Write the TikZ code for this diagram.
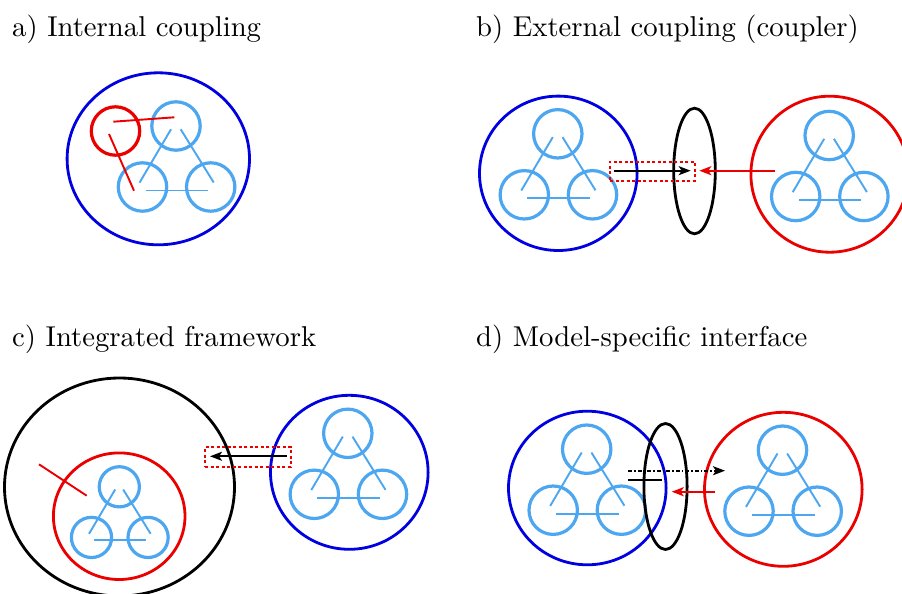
\documentclass[tikz,border=0pt]{standalone}
\usetikzlibrary{shapes.geometric,arrows.meta}
\definecolor{mycyan}{RGB}{77,166,240}
\definecolor{myblue}{RGB}{0,0,225}
\definecolor{myred}{RGB}{235,0,0}
\tikzset{
  tcirc/.style={circle, draw=mycyan, line width=3.2pt, inner sep=0pt, outer sep=0pt},
  tline/.style={draw=mycyan, line width=1.9pt},
  bigell/.style={ellipse, line width=2.8pt, inner sep=0pt, outer sep=0pt},
  redline/.style={draw=myred, line width=1.9pt},
  dashbox/.style={draw=myred, line width=2.3pt, dash pattern=on 3pt off 2.5pt, inner sep=0pt, outer sep=0pt},
  arr/.style={line width=2pt, -{Stealth[length=12pt,width=9pt,inset=3pt]}},
  title/.style={anchor=base west, inner sep=0pt, font=\fontsize{10}{12}\selectfont},
}
\newcommand\ttl[1]{\scalebox{2.87}{#1}}
\newcommand\mytriad[4]{%
  \pgfmathsetmacro\trs{#4}%
  \node[tcirc, minimum size={48.4pt*\trs}] (#1t) at (#2,#3) {};
  \node[tcirc, minimum size={48.4pt*\trs}] (#1l) at ([shift={(-33.5*\trs,61*\trs)}]#1t.center) {};
  \node[tcirc, minimum size={48.4pt*\trs}] (#1r) at ([shift={(34.7*\trs,61*\trs)}]#1t.center) {};
  \draw[tline] ([shift={(-5*\trs,3.3*\trs)}]#1t.center) -- ([shift={(-3*\trs,-4.3*\trs)}]#1l.center);
  \draw[tline] ([shift={(4.7*\trs,3.3*\trs)}]#1t.center) -- ([shift={(3*\trs,-4.5*\trs)}]#1r.center);
  \draw[tline] ([shift={(3*\trs,3.5*\trs)}]#1l.center) -- ([shift={(-2.5*\trs,3.5*\trs)}]#1r.center);
}
\begin{document}
\begin{tikzpicture}[x=1pt,y=-1pt]
\useasboundingbox[fill=white] (0,0) rectangle (902,594);
% titles
\node[title] (ta) at (12,36.5) {\ttl{a) Internal coupling}};
\node[title] (tb) at (476,36.5) {\ttl{b) External coupling (coupler)}};
\node[title] (tc) at (12,346.5) {\ttl{c) Integrated framework}};
\node[title] (td) at (476,346.5) {\ttl{d) Model-specific interface}};
% ---------- a
\node[bigell, draw=myblue, minimum width=182.4pt, minimum height=172pt] (aouter) at (158.3,158.8) {};
\mytriad{a}{176}{126}{1}
\node[circle, draw=myred, line width=3.2pt, minimum size=48.4pt, inner sep=0pt] (ared) at (115.5,131) {};
\coordinate (ar1) at (113.3,121.7);
\coordinate (ar2) at (174.3,117.3);
\coordinate (ar3) at (109,134);
\coordinate (ar4) at (134,190.7);
\draw[redline] (ar1) -- (ar2);
\draw[redline] (ar3) -- (ar4);
% ---------- b
\node[bigell, draw=myblue, minimum width=157.6pt, minimum height=154.4pt] (bblue) at (558.3,173.3) {};
\mytriad{bl}{557.8}{133.8}{1}
\node[bigell, draw=myred, minimum width=157.6pt, minimum height=156pt] (bred) at (829.7,174.2) {};
\mytriad{br}{829.2}{135.5}{1}
\node[bigell, draw=black, minimum width=41.6pt, minimum height=125.6pt] (bcoup) at (694.5,171) {};
\node[dashbox, minimum width=84.7pt, minimum height=19pt] (bbox) at (652.35,171.2) {};
\coordinate (ba1) at (614.3,170.7);
\coordinate (ba2) at (690.7,170.7);
\coordinate (ba3) at (775,170.7);
\coordinate (ba4) at (699.3,170.7);
\draw[arr, black] (ba1) -- (ba2);
\draw[arr, myred, line width=2.4pt] (ba3) -- (ba4);
% ---------- c
\node[bigell, draw=black, minimum width=230pt, minimum height=218pt] (couter) at (119.5,487) {};
\node[bigell, draw=myred, minimum width=131.6pt, minimum height=126.6pt] (cred) at (119.2,516.2) {};
\mytriad{cs}{119.3}{486.8}{0.83}
\coordinate (cr1) at (39,464.3);
\coordinate (cr2) at (86.7,495.7);
\draw[redline] (cr1) -- (cr2);
\node[bigell, draw=myblue, minimum width=157.6pt, minimum height=154pt] (cblue) at (349.3,472.3) {};
\mytriad{cb}{347.8}{433.3}{1}
\node[dashbox, minimum width=85.4pt, minimum height=19.7pt] (cbox) at (248,456.85) {};
\coordinate (ca1) at (286.7,456.3);
\coordinate (ca2) at (210,456.3);
\draw[arr, black] (ca1) -- (ca2);
% ---------- d
\node[bigell, draw=myblue, minimum width=157.6pt, minimum height=153.6pt] (dblue) at (587.3,488) {};
\mytriad{dl}{586.7}{449.2}{1}
\node[bigell, draw=myred, minimum width=157.6pt, minimum height=154pt] (dred) at (783.3,489.3) {};
\mytriad{dr}{782.5}{450.2}{1}
\node[bigell, draw=black, minimum width=43.2pt, minimum height=126pt] (dcoup) at (665.5,486.5) {};
\coordinate (da1) at (628.3,470.7);
\coordinate (da2) at (725,470.7);
\coordinate (db1) at (628.3,480);
\coordinate (db2) at (662.3,480);
\coordinate (dc1) at (715,491.7);
\coordinate (dc2) at (671.7,491.7);
\draw[arr, black, dash pattern=on 4pt off 2pt on 1.5pt off 2pt] (da1) -- (da2);
\draw[black, line width=2pt] (db1) -- (db2);
\draw[arr, myred, line width=2.4pt] (dc1) -- (dc2);
\end{tikzpicture}
\end{document}
